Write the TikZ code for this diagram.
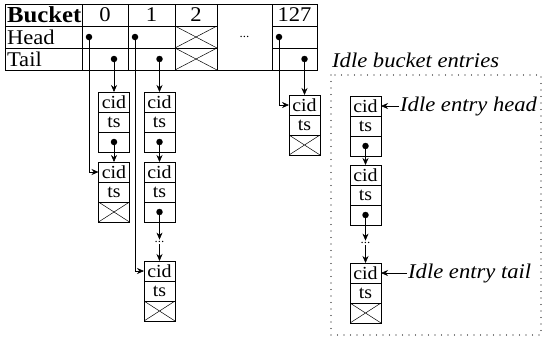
\documentclass[tikz,border=0pt]{standalone}
\usepackage{fontspec}
\setmainfont{Liberation Serif}[FakeStretch=1.08]
\usetikzlibrary{positioning,calc,arrows.meta}

\newcommand{\tabfont}{\fontsize{21}{22}\selectfont}
\newcommand{\entfont}{\fontsize{18.5}{20}\selectfont}
\newcommand{\lblfont}{\fontsize{21}{22}\selectfont\itshape}

\begin{document}
\begin{tikzpicture}[x=1bp, y=-1bp,
        cell/.style={rectangle, draw, line width=0.8bp, minimum height=22bp,
            inner sep=0pt, outer sep=0pt, font=\tabfont},
        hdr/.style={cell, inner xsep=2bp, text width=73bp, align=left},
        xcell/.style={cell, path picture={
            \draw[line width=0.5bp] (path picture bounding box.north west) -- (path picture bounding box.south east)
                (path picture bounding box.south west) -- (path picture bounding box.north east);}},
        fld/.style={rectangle, draw, line width=0.8bp, minimum width=31bp, minimum height=20bp,
            inner sep=0pt, outer sep=0pt, font=\entfont},
        nilfld/.style={fld, path picture={
            \draw[line width=0.5bp] (path picture bounding box.north west) -- (path picture bounding box.south east)
                (path picture bounding box.south west) -- (path picture bounding box.north east);}},
        ptr/.style={circle, fill=black, inner sep=0pt, minimum size=6.5bp},
        gapdots/.style={font=\fontsize{12}{12}\selectfont, inner sep=1.5bp},
        lbl/.style={font=\lblfont, inner sep=1bp},
        arr/.style={-{Stealth[length=7bp, width=6bp]}, line width=0.6bp},
        dotbox/.style={line width=1.2bp, line cap=round, dash pattern=on 0pt off 6.5bp}
    ]
    \useasboundingbox (0,0) rectangle (543,346);

    % bucket table
    \node[hdr, font=\fontsize{23}{22}\selectfont\bfseries, anchor=north west] (bk) at (5,4) {Bucket};
    \node[cell, minimum width=46bp, right=0pt of bk] (b0) {0};
    \node[cell, minimum width=47bp, right=0pt of b0] (b1) {1};
    \node[cell, minimum width=42bp, right=0pt of b1] (b2) {2};
    \node[cell, minimum width=55bp, minimum height=66bp, anchor=north west, font=\fontsize{12}{12}\selectfont] (gap) at (b2.north east) {...};
    \node[cell, minimum width=45bp, anchor=north west] (b127) at (gap.north east) {127};
    \node[hdr, below=0pt of bk] (hd) {Head};
    \node[cell, minimum width=46bp, below=0pt of b0] (h0) {};
    \node[cell, minimum width=47bp, below=0pt of b1] (h1) {};
    \node[xcell, minimum width=42bp, below=0pt of b2] (h2) {};
    \node[cell, minimum width=45bp, below=0pt of b127] (h127) {};
    \node[hdr, below=0pt of hd] (tl) {Tail};
    \node[cell, minimum width=46bp, below=0pt of h0] (t0) {};
    \node[cell, minimum width=47bp, below=0pt of h1] (t1) {};
    \node[xcell, minimum width=42bp, below=0pt of h2] (t2) {};
    \node[cell, minimum width=45bp, below=0pt of h127] (t127) {};

    % head / tail pointers
    \node[ptr] (hp0) at (89,37) {};
    \node[ptr] (tp0) at (114,59) {};
    \node[ptr] (hp1) at (135,37) {};
    \node[ptr] (tp1) at (159.5,59) {};
    \node[ptr] (hp127) at (279,37) {};
    \node[ptr] (tp127) at (304.5,59) {};

    % entries
    \foreach \e/\x/\y/\s in {a1/114/92/fld, a2/114/162/nilfld, b1/159.5/92/fld, b2/159.5/162/fld,
            b3/159.5/261/nilfld, z1/304.5/95/nilfld, i1/365.5/96/fld, i2/365.5/165/fld, i3/365.5/263/nilfld}{
        \node[fld, anchor=north] (\e-c) at (\x,\y) {cid};
        \node[fld, below=0pt of \e-c] (\e-t) {ts};
        \node[\s, below=0pt of \e-t] (\e-p) {};
    }
    \foreach \e in {a1,b1,b2,i1,i2}
        \node[ptr] (\e-d) at (\e-p) {};
    \node[gapdots] (bdots) at (159.5,242) {...};
    \node[gapdots] (idots) at (365.5,243) {...};

    \draw[arr] (hp0) |- (a2-c.west);
    \draw[arr] (tp0) -- (a1-c.north);
    \draw[arr] (a1-d) -- (a2-c.north);
    \draw[arr] (hp1) |- (b3-c.west);
    \draw[arr] (tp1) -- (b1-c.north);
    \draw[arr] (b1-d) -- (b2-c.north);
    \draw[arr] (b2-d) -- (bdots);
    \draw[arr] (bdots) -- (b3-c.north);
    \draw[arr] (hp127) |- (z1-c.west);
    \draw[arr] (tp127) -- (z1-c.north);

    % idle list
    \draw[dotbox] (331,75) rectangle (541,335);
    \node[lbl, anchor=base west] (idle) at (331,67) {Idle bucket entries};
    \draw[arr] (i1-d) -- (i2-c.north);
    \draw[arr] (i2-d) -- (idots);
    \draw[arr] (idots) -- (i3-c.north);
    \node[lbl, right=18bp of i1-c] (ihead) {Idle entry head};
    \node[lbl, right=26bp of i3-c] (itail) {Idle entry tail};
    \draw[arr] (ihead) -- (i1-c);
    \draw[arr] (itail) -- (i3-c);
\end{tikzpicture}
\end{document}
